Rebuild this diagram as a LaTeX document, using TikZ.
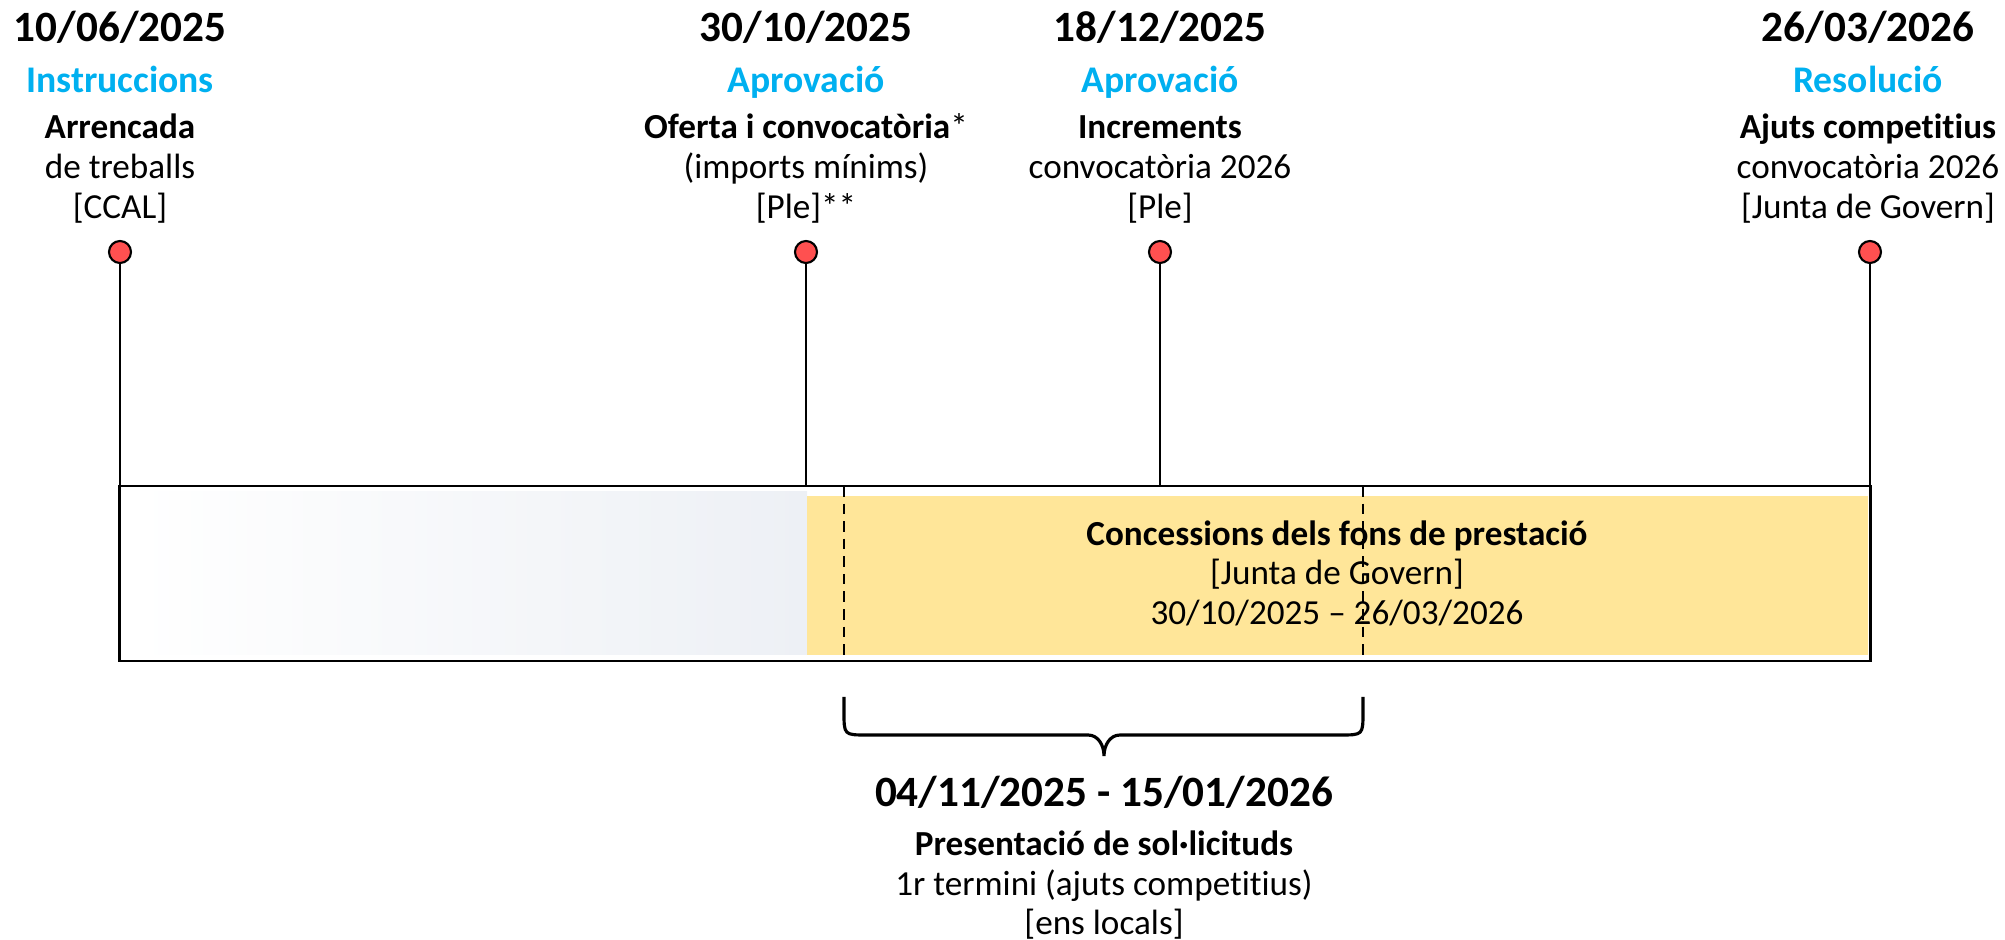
\documentclass[tikz,border=0pt]{standalone}
\usepackage{fontspec}
\setmainfont{Carlito}[Ligatures=NoCommon]
\usepackage{tikz}

\definecolor{stageblue}{HTML}{00B0F0}
\definecolor{dotred}{HTML}{FF5050}
\definecolor{gold}{HTML}{FFE699}
\definecolor{mist}{HTML}{EDF0F5}

\tikzset{
  datelabel/.style={font=\fontsize{12.3}{14}\selectfont\bfseries, anchor=base, inner sep=0pt},
  stagelabel/.style={font=\fontsize{10.7}{13}\selectfont\bfseries, text=stageblue, anchor=base, inner sep=0pt},
  textline/.style={font=\fontsize{10}{12}\selectfont, anchor=base, inner sep=0pt},
  boldline/.style={font=\fontsize{10}{12}\selectfont\bfseries, anchor=base, inner sep=0pt},
  milestone/.style={circle, draw=black, line width=0.6pt, fill=dotred, minimum size=0.22cm, inner sep=0pt}
}

\begin{document}
\begin{tikzpicture}[x=0.01cm, y=-0.01cm]
  \useasboundingbox (0,0) rectangle (2005,940);

  % background of the bar
  \shade[left color=white, right color=mist] (135,492) rectangle (807,655);
  \fill[gold] (807,496) rectangle (1868,655);
  \node[draw=black, line width=0.6pt, minimum width=17.5cm, minimum height=1.75cm, inner sep=0pt, outer sep=0pt] (bar) at (995,573.5) {};

  % milestones
  \begin{scope}[every node/.style={milestone}]
    \node (p1) at (120,252) {};
    \node (p2) at (806,252) {};
    \node (p3) at (1160,252) {};
    \node (p4) at (1870,252) {};
  \end{scope}
  \foreach \p in {p1,p2,p3,p4}
    \draw[line width=0.6pt] (\p.south) -- (\p |- bar.north);

  % column 1
  \node[datelabel] (d1) at (120,42) {10/06/2025};
  \node[stagelabel] (s1) at (120,93) {Instruccions};
  \node[boldline] (a1) at (120,139) {Arrencada};
  \node[textline] (b1) at (120,179) {de treballs};
  \node[textline] (c1) at (120,219) {[CCAL]};

  % column 2
  \node[datelabel] (d2) at (806,42) {30/10/2025};
  \node[stagelabel] (s2) at (806,93) {Aprovació};
  \node[boldline] (a2) at (806,139) {Oferta i convocatòria{\mdseries*}};
  \node[textline] (b2) at (806,179) {(imports mínims)};
  \node[textline] (c2) at (806,219) {[Ple]**};

  % column 3
  \node[datelabel] (d3) at (1160,42) {18/12/2025};
  \node[stagelabel] (s3) at (1160,93) {Aprovació};
  \node[boldline] (a3) at (1160,139) {Increments};
  \node[textline] (b3) at (1160,179) {convocatòria 2026};
  \node[textline] (c3) at (1160,219) {[Ple]};

  % column 4
  \node[datelabel] (d4) at (1868,42) {26/03/2026};
  \node[stagelabel] (s4) at (1868,93) {Resolució};
  \node[boldline] (a4) at (1868,139) {Ajuts competitius};
  \node[textline] (b4) at (1868,179) {convocatòria 2026};
  \node[textline] (c4) at (1868,219) {[Junta de Govern]};

  % concessions
  \node[boldline] (g1) at (1337,546) {Concessions dels fons de prestació};
  \node[textline] (g2) at (1337,585) {[Junta de Govern]};
  \node[textline] (g3) at (1337,625) {30/10/2025 -- 26/03/2026};

  % application window
  \coordinate (wl) at (844,486);
  \coordinate (wr) at (1363,486);
  \draw[line width=0.5pt, dash pattern=on 3pt off 2pt] (wl) -- (wl |- bar.south);
  \draw[line width=0.5pt, dash pattern=on 3pt off 2pt] (wr) -- (wr |- bar.south);

  \coordinate (bl) at (844,697);
  \coordinate (br) at (1363,697);
  \coordinate (tip) at (1104,756);
  \draw[line width=0.9pt] (bl) -- (844,712) .. controls (844,735) .. (867,735) -- (1088,735)
    .. controls (1098,735) and (1104,745) .. (tip)
    .. controls (1104,745) and (1110,735) .. (1120,735) -- (1340,735)
    .. controls (1363,735) .. (1363,712) -- (br);

  \node[datelabel] (w1) at (1104,807) {04/11/2025 - 15/01/2026};
  \node[boldline] (w2) at (1104,855) {Presentació de sol·licituds};
  \node[textline] (w3) at (1104,896) {1r termini (ajuts competitius)};
  \node[textline] (w4) at (1104,934) {[ens locals]};
\end{tikzpicture}
\end{document}
